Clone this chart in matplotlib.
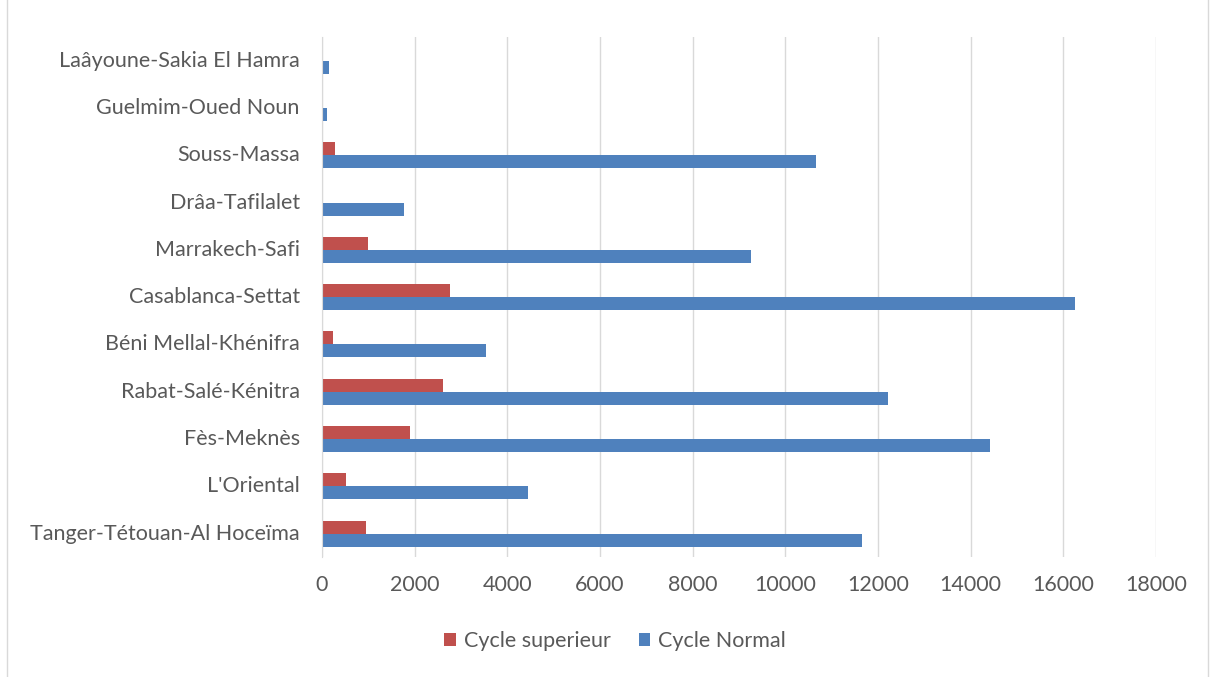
import matplotlib.pyplot as plt
import numpy as np
from matplotlib.patches import Rectangle

plt.rcParams['font.family'] = ['Lato', 'DejaVu Sans']

regions = ['Tanger-Tétouan-Al Hoceïma', "L'Oriental", 'Fès-Meknès', 'Rabat-Salé-Kénitra',
           'Béni Mellal-Khénifra', 'Casablanca-Settat', 'Marrakech-Safi', 'Drâa-Tafilalet',
           'Souss-Massa', 'Guelmim-Oued Noun', 'Laâyoune-Sakia El Hamra']
cycle_normal = [11660, 4450, 14420, 12210, 3530, 16250, 9260, 1770, 10660, 110, 140]
cycle_sup = [940, 525, 1905, 2600, 245, 2770, 1000, 0, 275, 0, 0]

blue = '#4F81BD'
red = '#C0504D'
txt = '#595959'

fig = plt.figure(figsize=(12.13, 6.77), dpi=100)
ax = fig.add_axes([0.2655, 0.177, 0.6875, 0.768])

y = np.arange(len(regions))
h = 0.275
ax.barh(y - h / 2, cycle_normal, height=h, color=blue, label='Cycle Normal', zorder=2)
ax.barh(y + h / 2, cycle_sup, height=h, color=red, label='Cycle superieur', zorder=2)

ax.set_xlim(0, 18000)
ax.set_ylim(-0.5, len(regions) - 0.5)
ax.set_xticks(range(0, 18001, 2000))
ax.set_yticks(y)
ax.set_yticklabels(regions, va='center')
ax.tick_params(axis='both', length=0, colors=txt, labelsize=15.5)
ax.tick_params(axis='x', pad=13)
ax.tick_params(axis='y', pad=16)
ax.grid(axis='x', color='#D9D9D9', linewidth=1, zorder=0)
for s in ['top', 'right', 'bottom']:
    ax.spines[s].set_visible(False)
ax.spines['left'].set_color('#D9D9D9')

handles, labels = ax.get_legend_handles_labels()
fig.legend(handles[::-1], labels[::-1], loc='center', bbox_to_anchor=(0.507, 0.053), ncol=2,
           frameon=False, fontsize=15.5, handlelength=0.55, handleheight=0.55, columnspacing=1.3,
           handletextpad=0.35, labelcolor=txt)

fig.patches.append(Rectangle((0.006, -0.01), 0.99, 1.02, transform=fig.transFigure,
                             fill=False, edgecolor='#D9D9D9', linewidth=1))

fig.savefig('out.png', dpi=100)
